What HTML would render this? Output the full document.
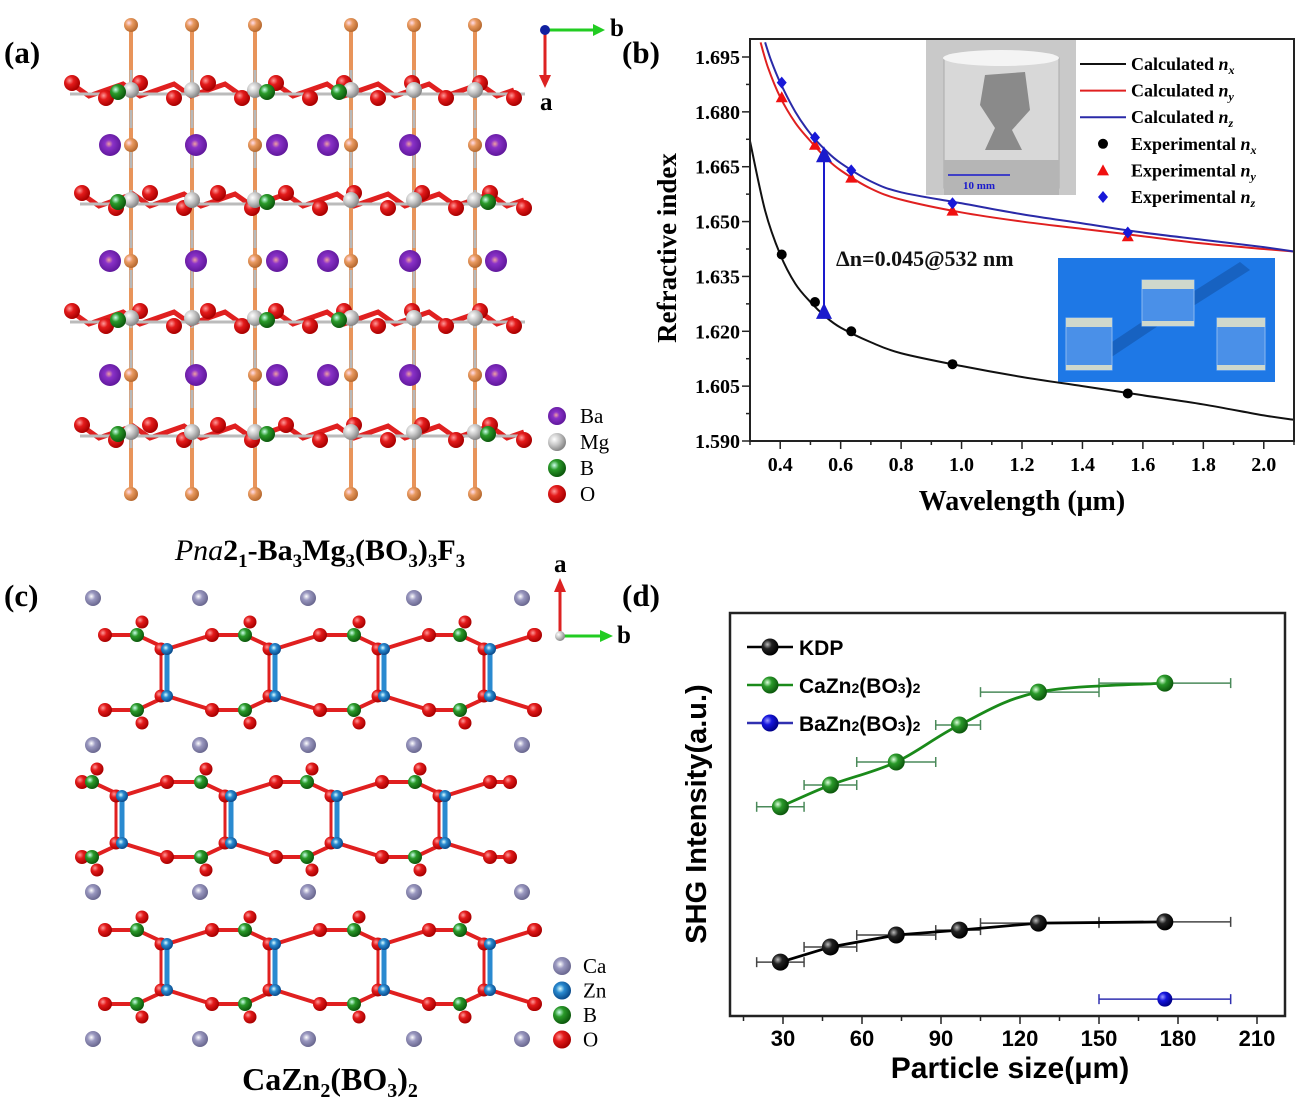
<!DOCTYPE html>
<html><head><meta charset="utf-8"><style>
html,body{margin:0;padding:0;background:#fff;}
svg{display:block;}
.serif{font-family:"Liberation Serif",serif;font-weight:bold;}
.sans{font-family:"Liberation Sans",sans-serif;font-weight:bold;}
</style></head><body>
<svg id="fig" width="1314" height="1108" viewBox="0 0 1314 1108" xmlns="http://www.w3.org/2000/svg">
<defs>
<radialGradient id="gO" cx="35%" cy="35%" r="65%"><stop offset="0" stop-color="#ff9a9a"/><stop offset=".4" stop-color="#e31b1b"/><stop offset="1" stop-color="#a00"/></radialGradient>
<radialGradient id="gB" cx="35%" cy="35%" r="65%"><stop offset="0" stop-color="#cfe"/><stop offset=".4" stop-color="#2a9a2a"/><stop offset="1" stop-color="#0d5a0d"/></radialGradient>
<radialGradient id="gMg" cx="35%" cy="35%" r="65%"><stop offset="0" stop-color="#fff"/><stop offset=".5" stop-color="#c8c8c8"/><stop offset="1" stop-color="#888"/></radialGradient>
<radialGradient id="gBa" cx="45%" cy="45%" r="60%"><stop offset="0" stop-color="#f0a0a0"/><stop offset=".3" stop-color="#8a32c8"/><stop offset="1" stop-color="#5a1496"/></radialGradient>
<radialGradient id="gF" cx="35%" cy="35%" r="65%"><stop offset="0" stop-color="#fde"/><stop offset=".4" stop-color="#e99a60"/><stop offset="1" stop-color="#b86a30"/></radialGradient>
<radialGradient id="gCa" cx="40%" cy="40%" r="60%"><stop offset="0" stop-color="#fff"/><stop offset=".4" stop-color="#9a98c0"/><stop offset="1" stop-color="#6a6890"/></radialGradient>
<radialGradient id="gZn" cx="40%" cy="40%" r="60%"><stop offset="0" stop-color="#dff"/><stop offset=".4" stop-color="#2a8ad0"/><stop offset="1" stop-color="#0a4a8a"/></radialGradient>
<radialGradient id="gK" cx="35%" cy="35%" r="65%"><stop offset="0" stop-color="#bbb"/><stop offset=".4" stop-color="#222"/><stop offset="1" stop-color="#000"/></radialGradient>
<radialGradient id="gG" cx="35%" cy="35%" r="65%"><stop offset="0" stop-color="#dfd"/><stop offset=".4" stop-color="#2a9a2a"/><stop offset="1" stop-color="#0d5a0d"/></radialGradient>
<radialGradient id="gBl" cx="35%" cy="35%" r="65%"><stop offset="0" stop-color="#99f"/><stop offset=".4" stop-color="#1515dd"/><stop offset="1" stop-color="#00008a"/></radialGradient>
<marker id="arrB" markerWidth="8" markerHeight="8" refX="4" refY="4" orient="auto"><path d="M0,0 L8,4 L0,8 z" fill="#1a1acc"/></marker>
</defs>

<g id="panelA"></g>
<g id="panelC"></g>

<text class="serif" x="4" y="63" font-size="31">(a)</text>
<text class="serif" x="622" y="63" font-size="31">(b)</text>
<text class="serif" x="4" y="606" font-size="31">(c)</text>
<text class="serif" x="622" y="606" font-size="31">(d)</text>

<text x="320" y="560" text-anchor="middle" font-family="Liberation Serif, serif" font-size="30" font-weight="bold"><tspan font-style="italic" font-weight="normal">Pna</tspan>2<tspan font-size="19" dy="7">1</tspan><tspan dy="-7">-Ba</tspan><tspan font-size="19" dy="7">3</tspan><tspan dy="-7">Mg</tspan><tspan font-size="19" dy="7">3</tspan><tspan dy="-7">(BO</tspan><tspan font-size="19" dy="7">3</tspan><tspan dy="-7">)</tspan><tspan font-size="19" dy="7">3</tspan><tspan dy="-7">F</tspan><tspan font-size="19" dy="7">3</tspan></text>
<text x="330" y="1090" text-anchor="middle" font-family="Liberation Serif, serif" font-size="32" font-weight="bold">CaZn<tspan font-size="20" dy="7">2</tspan><tspan dy="-7">(BO</tspan><tspan font-size="20" dy="7">3</tspan><tspan dy="-7">)</tspan><tspan font-size="20" dy="7">2</tspan></text>

<g id="panelB"></g>
<g id="panelD"></g>
</svg>
<script>
const NS="http://www.w3.org/2000/svg";
// ---------- Panel B data ----------
const bLambdaNx=[0.30,0.35,0.40,0.45,0.50,0.55,0.60,0.70,0.80,1.00,1.20,1.40,1.60,1.80,2.00,2.10];
const bCalcNx=[1.672,1.653,1.641,1.633,1.628,1.624,1.621,1.617,1.614,1.6105,1.6075,1.605,1.6025,1.600,1.597,1.5958];
const bLambdaNy=[0.335,0.36,0.40,0.45,0.50,0.55,0.60,0.70,0.80,1.00,1.20,1.40,1.60,1.80,2.00,2.10];
const bCalcNy=[1.699,1.692,1.684,1.677,1.672,1.6675,1.664,1.659,1.656,1.6525,1.650,1.648,1.646,1.644,1.6425,1.6418];
const bLambdaNz=[0.35,0.37,0.40,0.45,0.50,0.55,0.60,0.70,0.80,1.00,1.20,1.40,1.60,1.80,2.00,2.10];
const bCalcNz=[1.699,1.694,1.688,1.680,1.674,1.6695,1.666,1.661,1.658,1.655,1.652,1.6495,1.647,1.645,1.643,1.6418];
const bExpLambda=[0.405,0.515,0.635,0.97,1.55];
const bExpNx=[1.641,1.628,1.620,1.611,1.603];
const bExpNy=[1.684,1.671,1.662,1.653,1.646];
const bExpNz=[1.688,1.673,1.664,1.655,1.647];
const bYTicks=["1.590","1.605","1.620","1.635","1.650","1.665","1.680","1.695"];
const bXTicks=["0.4","0.6","0.8","1.0","1.2","1.4","1.6","1.8","2.0"];
// ---------- Panel D data ----------
const dSize=[29,48,73,97,127,175];
const dErrLo=[20,38,58,88,105,150];
const dErrHi=[38,58,88,105,150,200];
const dKDP=[13.1,16.8,19.7,20.9,22.6,22.9];
const dCaZn=[50.9,56.2,61.8,70.8,78.8,81.0];
const dBaSize=[175];
const dBaErrLo=[150];
const dBaErrHi=[200];
const dBaZn=[4.1];
const dXTicks=["30","60","90","120","150","180","210"];

function el(tag,attrs,parent){const e=document.createElementNS(NS,tag);for(const k in attrs)e.setAttribute(k,attrs[k]);if(parent)parent.appendChild(e);return e;}
function smooth(pts){if(pts.length<2)return"";let d="M"+pts[0][0]+","+pts[0][1];for(let i=0;i<pts.length-1;i++){const p0=pts[i-1]||pts[i],p1=pts[i],p2=pts[i+1],p3=pts[i+2]||p2;const c1=[p1[0]+(p2[0]-p0[0])/6,p1[1]+(p2[1]-p0[1])/6],c2=[p2[0]-(p3[0]-p1[0])/6,p2[1]-(p3[1]-p1[1])/6];d+=" C"+c1[0]+","+c1[1]+" "+c2[0]+","+c2[1]+" "+p2[0]+","+p2[1];}return d;}

// ===== Panel B =====
(function(){
const g=document.getElementById('panelB');
const L=750,R=1294,T=39,B=441;
const xs=v=>L+(v-0.3)/1.8*(R-L);
const ys=v=>441-(v-1.590)/0.105*(441-57);
const ph=el('g',{},g);
el('rect',{x:926,y:40,width:150,height:155,fill:'#c9c9c9'},ph);
el('rect',{x:944,y:58,width:115,height:130,fill:'#d8d8d8',stroke:'#aaa'},ph);
el('ellipse',{cx:1001,cy:58,rx:58,ry:8,fill:'#f4f4f4'},ph);
el('path',{d:'M985,75 L1025,72 L1030,110 L1012,130 L1022,150 L985,150 L995,128 L980,105 Z',fill:'#8a8a8a'},ph);
el('rect',{x:944,y:160,width:115,height:35,fill:'#b5b5b5'},ph);
el('line',{x1:948,y1:175,x2:1010,y2:175,stroke:'#1a1acc','stroke-width':1.5},ph);
const t10=el('text',{x:963,y:189,'font-size':11,fill:'#1a1acc','font-family':'Liberation Serif, serif','font-weight':'bold'},ph);t10.textContent='10 mm';
const bl=el('g',{},g);
el('rect',{x:1058,y:258,width:217,height:124,fill:'#1e78e6'},bl);
el('path',{d:'M1100,350 L1160,310 L1170,318 L1110,358 Z M1180,300 L1240,262 L1250,270 L1190,308 Z',fill:'#1458b0',opacity:.7},bl);
[[1066,318,46,52],[1142,280,52,46],[1217,318,48,52]].forEach(r=>{el('rect',{x:r[0],y:r[1],width:r[2],height:r[3],fill:'#4a90e8',stroke:'#8ab8f0'},bl);el('rect',{x:r[0],y:r[1],width:r[2],height:9,fill:'#cfd8cc'},bl);el('rect',{x:r[0],y:r[1]+r[3]-5,width:r[2],height:5,fill:'#cfd8cc'},bl);});
const clip=el('clipPath',{id:'clipB'},g);el('rect',{x:L,y:T,width:R-L,height:B-T},clip);
const cur=[[bLambdaNx,bCalcNx,'#111','calc-nx-curve'],[bLambdaNy,bCalcNy,'#e02020','calc-ny-curve'],[bLambdaNz,bCalcNz,'#2a2aa8','calc-nz-curve']];
cur.forEach(c=>{const p=el('path',{d:smooth(c[0].map((v,i)=>[xs(v),ys(c[1][i])])),fill:'none',stroke:c[2],'stroke-width':2,'clip-path':'url(#clipB)'},g);});
bExpLambda.forEach((v,i)=>{
 const a=el('circle',{cx:xs(v),cy:ys(bExpNx[i]),r:5,fill:'#000'},g);
 const x=xs(v),y=ys(bExpNy[i]);
 const b=el('path',{d:`M${x},${y-6} L${x+6},${y+5} L${x-6},${y+5} Z`,fill:'#f01010'},g);
 const z=ys(bExpNz[i]);
 const c=el('path',{d:`M${x},${z-6} L${x+5},${z} L${x},${z+6} L${x-5},${z} Z`,fill:'#1818d8'},g);
});
const ar=el('line',{x1:824,y1:ys(1.6245)-4,x2:824,y2:ys(1.6695)+4,stroke:'#1a1acc','stroke-width':2,'marker-start':'url(#arrB)','marker-end':'url(#arrB)'},g);

const dt=el('text',{x:836,y:266,'font-size':22,class:'serif',fill:'#111'},g);dt.textContent='Δn=0.045@532 nm';
const fr=el('rect',{x:L,y:T,width:R-L,height:B-T,fill:'none',stroke:'#222','stroke-width':2},g);
for(let i=0;i<=14;i++){const v=1.590+i*0.0075;const y=ys(v);el('line',{x1:L,x2:L-(i%2?4:8),y1:y,y2:y,stroke:'#222','stroke-width':1.5},g);}
bYTicks.forEach(t=>{const tx=el('text',{x:L-10,y:ys(parseFloat(t))+7,'text-anchor':'end','font-size':20,class:'serif'},g);tx.textContent=t;});
for(let i=0;i<=18;i++){const v=0.3+i*0.1;const x=xs(v);el('line',{x1:x,x2:x,y1:B,y2:B+(i%2?8:4),stroke:'#222','stroke-width':1.5},g);}
bXTicks.forEach(t=>{const tx=el('text',{x:xs(parseFloat(t)),y:B+30,'text-anchor':'middle','font-size':20,class:'serif'},g);tx.textContent=t;});
const yt=el('text',{x:0,y:0,'font-size':27,class:'serif','text-anchor':'middle',transform:'translate(676,248) rotate(-90)'},g);yt.textContent='Refractive index';
const xt=el('text',{x:1022,y:510,'font-size':28,class:'serif','text-anchor':'middle'},g);xt.textContent='Wavelength (μm)';
const lg=el('g',{},g);
const leg=[['line','#111','Calculated ','x'],['line','#e02020','Calculated ','y'],['line','#2a2aa8','Calculated ','z'],['circ','#000','Experimental ','x'],['tri','#f01010','Experimental ','y'],['dia','#1818d8','Experimental ','z']];
leg.forEach((e,i)=>{const y=64+i*26.6;const eg=el('g',{},lg);
 if(e[0]=='line')el('line',{x1:1080,x2:1126,y1:y,y2:y,stroke:e[1],'stroke-width':2},eg);
 else if(e[0]=='circ')el('circle',{cx:1103,cy:y,r:5,fill:e[1]},eg);
 else if(e[0]=='tri')el('path',{d:`M1103,${y-6} L1109,${y+5} L1097,${y+5} Z`,fill:e[1]},eg);
 else el('path',{d:`M1103,${y-6} L1108,${y} L1103,${y+6} L1098,${y} Z`,fill:e[1]},eg);
 const t=el('text',{x:1131,y:y+6,'font-size':18,class:'serif'},eg);t.textContent=e[2];const s=el('tspan',{'font-style':'italic'},t);s.textContent='n';const s2=el('tspan',{'font-size':12,dy:4,'font-style':'italic'},t);s2.textContent=e[3];
});
})();

// ===== Panel D =====
(function(){
const g=document.getElementById('panelD');
const L=730,R=1285,T=613,B=1016;
const xs=v=>783+(v-30)*(1257-783)/180;
const ys=v=>B-v/100*(B-605);
el('rect',{x:L,y:T,width:R-L,height:B-T,fill:'none',stroke:'#222','stroke-width':2.5},g);
for(let v=15;v<=210;v+=15){const x=xs(v);el('line',{x1:x,x2:x,y1:B,y2:B+((v%30)?5:8),stroke:'#222','stroke-width':1.5},g);}
dXTicks.forEach(t=>{const tx=el('text',{x:xs(+t),y:B+30,'text-anchor':'middle','font-size':22,class:'sans'},g);tx.textContent=t;});
const yt=el('text',{x:0,y:0,'font-size':29,class:'sans','text-anchor':'middle',transform:'translate(706,814) rotate(-90)'},g);yt.textContent='SHG Intensity(a.u.)';
const xt=el('text',{x:1010,y:1078,'font-size':30,class:'sans','text-anchor':'middle'},g);xt.textContent='Particle size(μm)';
function errbars(sz,lo,hi,vals,col,name){sz.forEach((s,i)=>{const y=ys(vals[i]);const e=el('g',{},g);
 el('line',{x1:xs(lo[i]),x2:xs(hi[i]),y1:y,y2:y,stroke:col,'stroke-width':1.5},e);
 [lo[i],hi[i]].forEach(v=>el('line',{x1:xs(v),x2:xs(v),y1:y-5,y2:y+5,stroke:col,'stroke-width':1.5},e));});}
errbars(dSize,dErrLo,dErrHi,dCaZn,'#4a8a5a','cazn-error-bar');
errbars(dSize,dErrLo,dErrHi,dKDP,'#444','kdp-error-bar');
errbars(dBaSize,dBaErrLo,dBaErrHi,dBaZn,'#3030b0','bazn-error-bar');
const gl=el('path',{d:smooth(dSize.map((s,i)=>[xs(s),ys(dCaZn[i])])),fill:'none',stroke:'#1a8a1a','stroke-width':2.8},g);
const kl=el('path',{d:'M'+dSize.map((s,i)=>xs(s)+','+ys(dKDP[i])).join(' L'),fill:'none',stroke:'#000','stroke-width':2.8},g);
dSize.forEach((s,i)=>{const a=el('circle',{cx:xs(s),cy:ys(dCaZn[i]),r:8.5,fill:'url(#gG)'},g);
 const b=el('circle',{cx:xs(s),cy:ys(dKDP[i]),r:8.5,fill:'url(#gK)'},g);});
dBaSize.forEach((s,i)=>{const c=el('circle',{cx:xs(s),cy:ys(dBaZn[i]),r:7.5,fill:'url(#gBl)'},g);});
const lg=el('g',{},g);
[['#000','url(#gK)','KDP'],['#1a8a1a','url(#gG)','CaZn','2','(BO','3',')','2'],['#3030b0','url(#gBl)','BaZn','2','(BO','3',')','2']].forEach((e,i)=>{const y=647+i*38;const eg=el('g',{},lg);
 el('line',{x1:747,x2:793,y1:y,y2:y,stroke:e[0],'stroke-width':2.5},eg);el('circle',{cx:770,cy:y,r:8.5,fill:e[1]},eg);
 const t=el('text',{x:799,y:y+8,'font-size':21,class:'sans'},eg);
 if(e.length==3)t.textContent=e[2];else{t.textContent=e[2];const a=el('tspan',{'font-size':14},t);a.textContent=e[3];const b=el('tspan',{},t);b.textContent=e[4];const c=el('tspan',{'font-size':14},t);c.textContent=e[5];const d=el('tspan',{},t);d.textContent=e[6];const f=el('tspan',{'font-size':14},t);f.textContent=e[7];}
});
})();

// ===== Panel A structure =====
(function(){
const g=document.getElementById('panelA');
const cols=[131,192,255,351,414,475];
const layers=[90,200,318,432];
const baRows=[145,261,375];
const baX=[110,196,277,328,410,496];
cols.forEach(x=>{el('line',{x1:x,x2:x,y1:25,y2:494,stroke:'#e8945a','stroke-width':4},g);el('line',{x1:x,x2:x,y1:70,y2:460,stroke:'#b8b8b8','stroke-width':3,'stroke-dasharray':'18 22'},g);});
layers.forEach((Y,li)=>{
 const off=(li%2)?10:0;
 const xs=[]; for(let x=72+off;x<=525;x+=17)xs.push(x);
 el('path',{d:'M'+xs.map((x,i)=>x+','+(Y+(i%3==0?-6:(i%3==1?6:0)))).join(' L'),fill:'none',stroke:'#e02020','stroke-width':5},g);
 el('line',{x1:70+off,x2:525,y1:Y+4,y2:Y+4,stroke:'#bbb','stroke-width':3},g);
 xs.forEach((x,i)=>{if(i%2==0)el('circle',{cx:x,cy:Y+(i%4==0?-7:8),r:8,fill:'url(#gO)'},g);});
 cols.forEach(x=>el('circle',{cx:x,cy:Y,r:8,fill:'url(#gMg)'},g));
 [118,267,(li%2?488:339)].forEach(x=>el('circle',{cx:x,cy:Y+2,r:8,fill:'url(#gB)'},g));
});
cols.forEach(x=>{[25,494].concat(baRows).forEach(y=>el('circle',{cx:x,cy:y,r:7,fill:'url(#gF)'},g));});
baRows.forEach(y=>baX.forEach(x=>el('circle',{cx:x,cy:y,r:11,fill:'url(#gBa)'},g)));
el('line',{x1:545,y1:30,x2:596,y2:30,stroke:'#2c2','stroke-width':3},g);el('path',{d:'M593,24 L605,30 L593,36 Z',fill:'#2c2'},g);
el('line',{x1:545,y1:30,x2:545,y2:78,stroke:'#d22','stroke-width':3},g);el('path',{d:'M539,75 L545,88 L551,75 Z',fill:'#d22'},g);
el('circle',{cx:545,cy:30,r:5,fill:'#1020a0'},g);
const tb=el('text',{x:610,y:36,'font-size':25,class:'serif'},g);tb.textContent='b';
const ta=el('text',{x:540,y:110,'font-size':25,class:'serif'},g);ta.textContent='a';
const lg=el('g',{},g);
[['url(#gBa)','Ba'],['url(#gMg)','Mg'],['url(#gB)','B'],['url(#gO)','O']].forEach((e,i)=>{const y=416+i*26;el('circle',{cx:557,cy:y,r:9,fill:e[0]},lg);const t=el('text',{x:580,y:y+7,'font-size':21,'font-family':'Liberation Serif, serif'},lg);t.textContent=e[1];});
})();

// ===== Panel C structure =====
(function(){
const g=document.getElementById('panelC');
const caRows=[598,745,892,1039],caX=[93,200,308,414,522];
const lay=[[635,710,[167,275,384,490],105,534],[782,857,[122,231,337,445],82,510],[930,1004,[167,275,384,490],105,534]];
lay.forEach(l=>{const [yt,yb,zn,x0,x1]=l;
 [yt,yb].forEach(y=>{
  const pts=[[x0,y]];zn.forEach((z,i)=>{pts.push([z-30,y]);pts.push([z,y+(y==yt?14:-14)]);pts.push([z+45,y]);});pts.push([x1,y]);
  el('path',{d:'M'+pts.map(p=>p.join(',')).join(' L'),fill:'none',stroke:'#e02020','stroke-width':4},g);
 });
 zn.forEach(z=>{el('line',{x1:z,x2:z,y1:yt+14,y2:yb-14,stroke:'#2a8ad0','stroke-width':5},g);el('line',{x1:z-6,x2:z-6,y1:yt+14,y2:yb-14,stroke:'#e02020','stroke-width':3},g);});
 [yt,yb].forEach(y=>{
  el('circle',{cx:x0,cy:y,r:7,fill:'url(#gO)'},g);el('circle',{cx:x1,cy:y,r:7,fill:'url(#gO)'},g);
  zn.forEach(z=>{el('circle',{cx:z-30,cy:y,r:7,fill:'url(#gB)'},g);el('circle',{cx:z-25,cy:y+(y==yt?-13:13),r:6.5,fill:'url(#gO)'},g);el('circle',{cx:z+45,cy:y,r:7,fill:'url(#gO)'},g);el('circle',{cx:z-6,cy:y+(y==yt?14:-14),r:6.5,fill:'url(#gO)'},g);el('circle',{cx:z,cy:y+(y==yt?14:-14),r:6,fill:'url(#gZn)'},g);});
 });
});
caRows.forEach(y=>caX.forEach(x=>el('circle',{cx:x,cy:y,r:8,fill:'url(#gCa)'},g)));
el('line',{x1:560,y1:636,x2:602,y2:636,stroke:'#2c2','stroke-width':3},g);el('path',{d:'M600,630 L613,636 L600,642 Z',fill:'#2c2'},g);
el('line',{x1:560,y1:636,x2:560,y2:590,stroke:'#d22','stroke-width':3},g);el('path',{d:'M554,592 L560,578 L566,592 Z',fill:'#d22'},g);
el('circle',{cx:560,cy:636,r:5,fill:'url(#gMg)'},g);
const tb=el('text',{x:617,y:643,'font-size':25,class:'serif'},g);tb.textContent='b';
const ta=el('text',{x:554,y:572,'font-size':25,class:'serif'},g);ta.textContent='a';
const lg=el('g',{},g);
[['url(#gCa)','Ca'],['url(#gZn)','Zn'],['url(#gB)','B'],['url(#gO)','O']].forEach((e,i)=>{const y=966+i*24.5;el('circle',{cx:562,cy:y,r:9,fill:e[0]},lg);const t=el('text',{x:583,y:y+7,'font-size':21,'font-family':'Liberation Serif, serif'},lg);t.textContent=e[1];});
})();
</script>
</body></html>
